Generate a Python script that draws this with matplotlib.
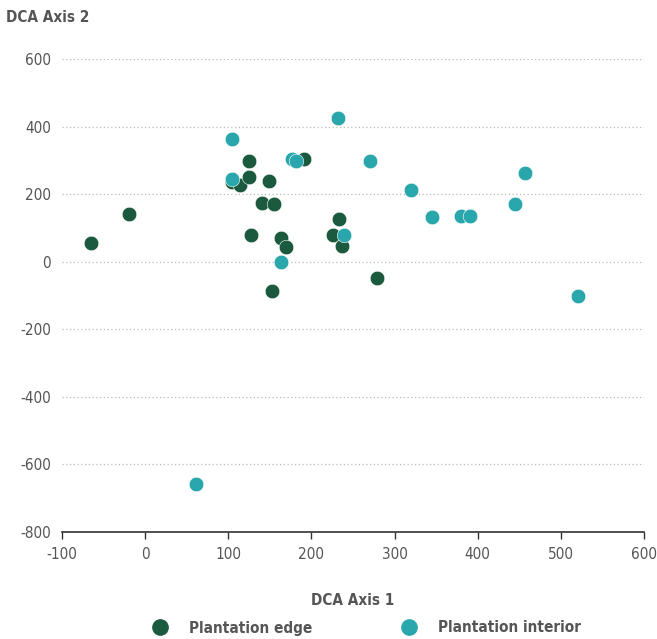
import matplotlib.pyplot as plt
from matplotlib.lines import Line2D

plt.rcParams['font.family'] = ['DejaVu Sans']
plt.rcParams['font.stretch'] = 'condensed'
plt.rcParams['axes.unicode_minus'] = False

# DCA scores per site
edge_x = [125, 191.5, 104, 114, 125, 149, 140, 154.7, -19, -65, 127, 164, 169, 152, 233, 226, 237, 279]
edge_y = [297, 304, 236, 227, 251, 240, 175, 170, 142, 55, 79, 69, 45, -88, 126, 80, 46, -48]
interior_x = [232, 104, 177, 181, 104, 163, 239, 270, 320, 457, 445, 345, 380, 391, 521, 61]
interior_y = [426, 364, 305, 297, 244, -2, 80, 297, 211, 263, 170, 133, 136, 136, -100, -658]

x_ticks = [-100, 0, 100, 200, 300, 400, 500, 600]
y_ticks = [-800, -600, -400, -200, 0, 200, 400, 600]

edge_color = '#1b5a3e'
interior_color = '#2aa7ac'
text_color = '#555555'

fig = plt.figure(figsize=(6.57, 6.39), dpi=100)
ax = fig.add_axes([62 / 657, 1 - 532 / 639, 582 / 657, 473 / 639])

ax.scatter(edge_x, edge_y, s=110, color=edge_color, edgecolors='white', linewidths=0.4, zorder=3)
ax.scatter(interior_x, interior_y, s=110, color=interior_color, edgecolors='white', linewidths=0.4, zorder=3)

ax.set_xlim(-100, 600)
ax.set_ylim(-800, 600)
ax.set_xticks(x_ticks)
ax.set_yticks(y_ticks)
ax.grid(axis='y', linestyle=(0, (1, 2)), color='#bbbbbb', linewidth=0.9)
ax.grid(axis='x', visible=False)
ax.set_axisbelow(True)

for side in ['top', 'right', 'left']:
    ax.spines[side].set_visible(False)
ax.spines['bottom'].set_color('#333333')
ax.spines['bottom'].set_linewidth(1.2)

ax.tick_params(axis='x', length=5, width=1, color='#333333', labelsize=11, labelcolor=text_color, pad=6)
ax.tick_params(axis='y', length=0, labelsize=11, labelcolor=text_color, pad=8)

ax.set_xlabel('DCA Axis 1', fontsize=11, fontweight='bold', color=text_color, labelpad=22)
fig.text(6 / 657, 1 - 17 / 639, 'DCA Axis 2', fontsize=11, fontweight='bold', color=text_color, va='center')

handles = [
    Line2D([], [], marker='o', linestyle='', markersize=11, color=edge_color, label='Plantation edge'),
    Line2D([], [], marker='o', linestyle='', markersize=11, color=interior_color, label='Plantation interior'),
]
leg = fig.legend(handles=handles, loc='center left', bbox_to_anchor=(145 / 657, 1 - 628 / 639), ncol=2,
                 frameon=False, fontsize=11, handletextpad=0.9, columnspacing=5.3,
                 borderaxespad=0, borderpad=0)
for t in leg.get_texts():
    t.set_color(text_color)
    t.set_fontweight('bold')

fig.savefig('out.png', dpi=100)
